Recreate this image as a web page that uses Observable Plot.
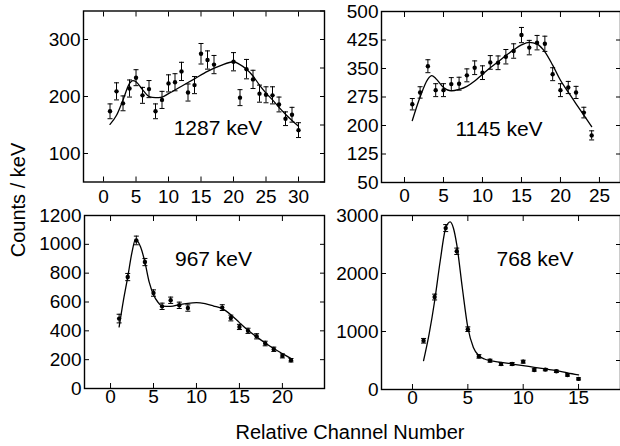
<!DOCTYPE html>
<html><head><meta charset="utf-8">
<script src="https://cdn.jsdelivr.net/npm/d3@7"></script>
<script src="https://cdn.jsdelivr.net/npm/@observablehq/plot@0.6"></script>
<style>
body{margin:0;background:#fff;}
#chart{position:relative;width:620px;height:446px;overflow:hidden;font-family:"Liberation Sans",Arial,sans-serif;color:#000;}
.panel{position:absolute;}
.ytitle{position:absolute;left:18px;top:200px;transform:translate(-50%,-50%) rotate(-90deg);font-size:20px;white-space:nowrap;}
.xtitle{position:absolute;left:350px;top:432px;transform:translate(-50%,-50%);font-size:20px;white-space:nowrap;}
</style></head><body>
<div id="chart">
<div class="ytitle">Counts / keV</div>
<div class="xtitle">Relative Channel Number</div>
</div>
<script>
// ---- 1287 keV ----
const ch1287 = [1,2,3,4,5,6,7,8,9,10,11,12,13,14,15,16,17,20,21,22,23,24,25,26,27,28,29,30];
const cnt1287 = [174,209,188,214,233,202,213,174,194,223,225,244,207,220,275,264,256,261,198,248,230,205,203,202,186,161,168,141];
const err1287 = [13,15,13,15,14,14,15,13,15,15,15,16,15,15,18,16,16,16,14,17,16,15,14,15,13,12,13,13];
const fitX1287 = [1,2,3,4,4.5,5,6,7,8,9,10,12,14,16,18,20,21,22,23,24,25,26,27,28,29,30];
const fitY1287 = [151,167,194,223,228,226,212,200,198,199,205,218,231,244,254,261,256,248,236,220,206,194,181,169,158,148];
const xTicks1287 = [0,5,10,15,20,25,30];
const yLabels1287 = [100,200,300];
const yTicks1287 = [50,100,150,200,250,300,350];

// ---- 1145 keV ----
const ch1145 = [1,2,3,4,5,6,7,8,9,10,11,12,13,14,15,16,17,18,19,20,21,22,23,24];
const cnt1145 = [256,287,356,293,293,309,310,332,352,339,366,365,381,396,438,405,418,415,335,293,300,287,234,174];
const err1145 = [15,15,17,17,17,17,17,17,18,18,18,18,19,19,20,19,19,20,17,17,16,16,14,12];
const fitX1145 = [1,2,3,3.5,4,5,6,7,8,9,10,11,12,13,14,15,16,17,18,19,20,21,22,23,24];
const fitY1145 = [213,275,322,331,324,300,291,295,303,317,335,352,368,384,399,412,419,414,394,359,319,288,257,227,197];
const xTicks1145 = [0,5,10,15,20,25];
const yLabels1145 = [50,125,200,275,350,425,500];

// ---- 967 keV ----
const ch967 = [1,2,3,4,5,6,7,8,9,13,14,15,16,17,18,19,20,21];
const cnt967 = [485,773,1027,877,662,570,612,577,558,561,489,427,400,362,312,272,226,196];
const err967 = [30,25,30,25,22,22,22,22,22,20,20,18,18,18,16,15,14,12];
const fitX967 = [1,1.5,2,2.5,2.9,3.5,4,4.5,5,5.5,6,7,8,9,10,11,12,13,14,15,16,17,18,19,20,21];
const fitY967 = [427,612,773,946,1032,981,877,738,651,600,572,570,582,591,595,588,572,554,512,457,404,358,316,277,242,208];
const xTicks967 = [0,5,10,15,20];
const yLabels967 = [0,200,400,600,800,1000,1200];

// ---- 768 keV ----
const ch768 = [1,2,3,4,5,6,7,8,9,10,11,12,13,14,15];
const cnt768 = [840,1594,2783,2383,1040,571,497,440,440,480,337,343,314,251,183];
const err768 = [40,50,60,55,40,30,25,25,25,25,20,20,20,20,18];
const fitX768 = [1,1.5,2,2.5,3,3.4,3.7,4,4.5,5,5.5,6,6.5,7,8,9,10,11,12,13,14,15];
const fitY768 = [497,954,1526,2211,2783,2890,2780,2497,1754,1069,726,583,526,497,469,440,411,383,354,326,286,251];
const xTicks768 = [0,5,10,15];
const yLabels768 = [0,1000,2000,3000];
const yTicks768 = [0,500,1000,1500,2000,2500,3000];

const cap = {draw(ctx){ ctx.moveTo(-2.5,0); ctx.lineTo(2.5,0); }};

function panel(o){
  const pts = o.ch.map((c,i)=>({x:c, y:o.cnt[i], e:o.err[i]}));
  const fit = o.fx.map((x,i)=>({x, y:o.fy[i]}));
  const svg = Plot.plot({
    width:o.width, height:o.height,
    marginLeft:o.ml, marginRight:o.mr, marginTop:o.mt, marginBottom:o.mb,
    x:{domain:o.xDomain, label:null},
    y:{domain:o.yDomain, label:null},
    style:{background:"transparent", overflow:"visible", fontFamily:"'Liberation Sans', Arial, sans-serif", fontSize:"19px", color:"black"},
    marks:[
      Plot.frame({stroke:"black", strokeWidth:1.4}),
      Plot.axisX({anchor:"bottom", ticks:o.xTicks, tickSize:-5, tickPadding:o.xpad, label:null, tickFormat:d=>String(d)}),
      Plot.axisX({anchor:"top", ticks:o.xTicks, tickSize:-5, fill:"none", label:null}),
      Plot.axisY({anchor:"left", ticks:o.yLabels, tickSize:-5, tickPadding:8, label:null, tickFormat:d=>String(d)}),
      Plot.axisY({anchor:"right", ticks:o.yTicks, tickSize:-5, fill:"none", label:null}),
      Plot.line(fit, {x:"x", y:"y", curve:"monotone-x", stroke:"black", strokeWidth:1.3}),
      Plot.ruleX(pts, {x:"x", y1:d=>d.y-d.e, y2:d=>d.y+d.e, stroke:"black", strokeWidth:1}),
      Plot.dot(pts, {x:"x", y:d=>d.y+d.e, symbol:cap, stroke:"black", fill:"none", strokeWidth:1}),
      Plot.dot(pts, {x:"x", y:d=>d.y-d.e, symbol:cap, stroke:"black", fill:"none", strokeWidth:1}),
      Plot.dot(pts, {x:"x", y:"y", r:2.2, fill:"black", stroke:"none"}),
      Plot.text([o.label], {frameAnchor:"top-left", dx:o.ldx, dy:o.ldy, text:d=>d, textAnchor:"middle", lineAnchor:"middle", fontSize:21, fill:"black"})
    ]
  });
  svg.classList.add("panel");
  svg.style.left = o.left + "px";
  svg.style.top = o.top + "px";
  svg.style.position = "absolute";
  document.getElementById("chart").appendChild(svg);
}

panel({left:0, top:0, width:330, height:205, ml:83, mr:6, mt:10.5, mb:23.5, xpad:12,
  xDomain:[-3.08,34], yDomain:[50,350], xTicks:xTicks1287, yLabels:yLabels1287, yTicks:yTicks1287,
  ch:ch1287, cnt:cnt1287, err:err1287, fx:fitX1287, fy:fitY1287, label:"1287 keV", ldx:134.5, ldy:117});

panel({left:330, top:0, width:290, height:205, ml:51, mr:0, mt:11, mb:23, xpad:11,
  xDomain:[-2.95,27.7], yDomain:[50,500], xTicks:xTicks1145, yLabels:yLabels1145, yTicks:yLabels1145,
  ch:ch1145, cnt:cnt1145, err:err1145, fx:fitX1145, fy:fitY1145, label:"1145 keV", ldx:117.5, ldy:118});

panel({left:0, top:200, width:330, height:210, ml:84, mr:6, mt:15, mb:22, xpad:6,
  xDomain:[-3.03,24.9], yDomain:[0,1200], xTicks:xTicks967, yLabels:yLabels967, yTicks:yLabels967,
  ch:ch967, cnt:cnt967, err:err967, fx:fitX967, fy:fitY967, label:"967 keV", ldx:129, ldy:43.5});

panel({left:330, top:200, width:290, height:210, ml:51, mr:0, mt:15, mb:21, xpad:6,
  xDomain:[-2.8,18.79], yDomain:[0,3000], xTicks:xTicks768, yLabels:yLabels768, yTicks:yTicks768,
  ch:ch768, cnt:cnt768, err:err768, fx:fitX768, fy:fitY768, label:"768 keV", ldx:153.5, ldy:44});
</script>
</body></html>
